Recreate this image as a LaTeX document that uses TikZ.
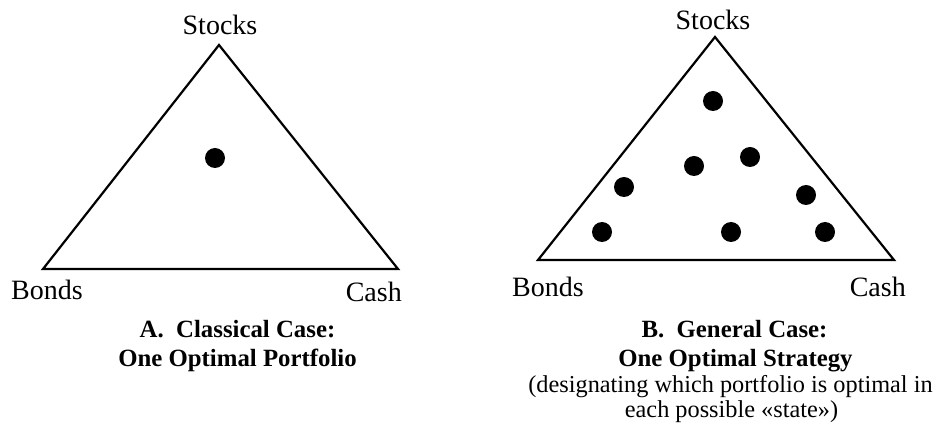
\documentclass[tikz,border=0pt]{standalone}
\usepackage{fontspec}
\setmainfont{Liberation Serif}
\begin{document}
\begin{tikzpicture}[x=1pt,y=1pt,
  tri/.style={line width=2.2pt,line join=miter},
  dot/.style={circle,fill=black,inner sep=0pt,minimum size=20pt},
  corner/.style={font=\fontsize{28}{30}\selectfont,inner sep=0pt},
  capb/.style={font=\fontsize{24.8}{26}\selectfont\bfseries,inner sep=0pt,anchor=base},
  capr/.style={font=\fontsize{24.3}{26}\selectfont,inner sep=0pt,anchor=base}]
\useasboundingbox (0,0) rectangle (946,-427);
% Left triangle
\coordinate (aS) at (219,-45);
\coordinate (aB) at (43,-269);
\coordinate (aC) at (398,-269);
\draw[tri] (aS) -- (aB) -- (aC) -- cycle;
\node[dot] (a1) at (215,-158) {};
\node[corner,anchor=base] (aStocks) at (220,-35) {Stocks};
\node[corner,anchor=base west] (aBonds) at (11,-300) {Bonds};
\node[corner,anchor=base east] (aCash) at (402,-302) {Cash};
\node[capb] (aT1) at (237.5,-338) {A.~~Classical Case:};
\node[capb] (aT2) at (237.5,-367) {One Optimal Portfolio};
% Right triangle
\coordinate (bS) at (715,-37);
\coordinate (bB) at (538,-260);
\coordinate (bC) at (894,-260);
\draw[tri] (bS) -- (bB) -- (bC) -- cycle;
\node[dot] (b1) at (713,-101) {};
\node[dot] (b2) at (694,-166) {};
\node[dot] (b3) at (750,-157) {};
\node[dot] (b4) at (624,-187) {};
\node[dot] (b5) at (806,-195) {};
\node[dot] (b6) at (602,-232) {};
\node[dot] (b7) at (731,-232) {};
\node[dot] (b8) at (825,-232) {};
\node[corner,anchor=base] (bStocks) at (713,-30) {Stocks};
\node[corner,anchor=base west] (bBonds) at (512,-297) {Bonds};
\node[corner,anchor=base east] (bCash) at (906,-297) {Cash};
\node[capb] (bT1) at (734.5,-338) {B.~~General Case:};
\node[capb] (bT2) at (735.5,-367) {One Optimal Strategy};
\node[capr] (bT3) at (730.5,-393) {(designating which portfolio is optimal in};
\node[capr] (bT4) at (731.5,-418) {each possible «state»)};
\end{tikzpicture}
\end{document}
